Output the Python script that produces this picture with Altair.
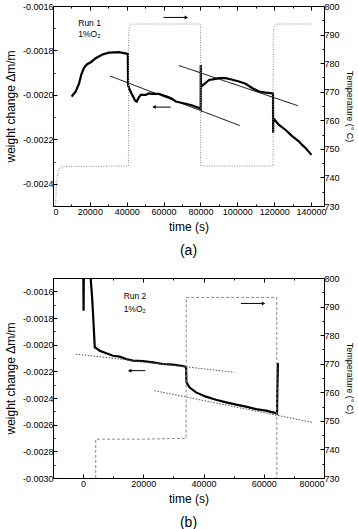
import altair as alt
import pandas as pd

# ---------------- Run 1 (panel a) ----------------
run1_time = [10100, 11000, 12300, 13300, 14100, 15300, 16800, 18500, 20500, 23150,
             26800, 30400, 33500, 35800, 38500, 40600, 40700, 41500, 43000, 44500,
             45400, 46500, 47600, 50300, 52100, 54000, 57500, 60000, 62500, 64750,
             66600, 68400, 72000, 75600, 79600, 80100, 80150, 80250, 81950, 84650,
             88270, 90100, 93700, 97300, 100900, 104500, 108200, 111800, 115400, 119000,
             119350, 119400, 119500, 122600, 126200, 128000, 129900, 133500, 135100, 137100,
             140200]
run1_dm = [-0.002008, -0.001998, -0.001985, -0.001965, -0.00195, -0.00191, -0.001878, -0.001862, -0.001853, -0.001835,
           -0.001818, -0.00181, -0.001809, -0.001808, -0.001812, -0.001816, -0.001955, -0.001975, -0.002, -0.002025,
           -0.00203, -0.002012, -0.002, -0.002, -0.001993, -0.001995, -0.001995, -0.002003, -0.00201, -0.002018,
           -0.00203, -0.002033, -0.00204, -0.002048, -0.00206, -0.002065, -0.001865, -0.001963, -0.001952, -0.001933,
           -0.001928, -0.001925, -0.001925, -0.001932, -0.00194, -0.00195, -0.00197, -0.001985, -0.00199, -0.001993,
           -0.001995, -0.00217, -0.002105, -0.002135, -0.002158, -0.002172, -0.002187, -0.00221, -0.002225, -0.00224,
           -0.00227]
run1_temp_time = [1400, 1700, 2200, 2900, 4000, 6000, 40900, 41000, 41500, 42500,
                  80000, 80050, 119400, 119450, 120000, 121000, 140200]
run1_temp = [730, 735, 739.5, 742.5, 743.5, 743.8, 744, 790, 793, 793.7,
             793.7, 744, 744, 790, 793, 793.7, 793.7]
run1_fit_time = [[30930, 101300], [68370, 132950]]
run1_fit_dm = [[-0.001915, -0.002138], [-0.001868, -0.002049]]

# ---------------- Run 2 (panel b) ----------------
run2_time = [0, 150, 300, 2300, 2500, 3000, 3300, 3600, 3870, 4400,
             5500, 7700, 9900, 12100, 14300, 16500, 19900, 23200, 26500, 29800,
             33100, 34200, 34300, 35300, 37500, 40800, 44100, 47500, 50800, 54100,
             57400, 60700, 64000, 64400, 64500, 64700]
run2_dm = [-0.0013, -0.001745, -0.0013, -0.0013, -0.0015, -0.00165, -0.00177, -0.0019, -0.00202, -0.002027,
           -0.002045, -0.002065, -0.002083, -0.00209, -0.002108, -0.00212, -0.002123, -0.002133, -0.002145, -0.00215,
           -0.00216, -0.002168, -0.00228, -0.00232, -0.002358, -0.00239, -0.002413, -0.002433, -0.00245, -0.002465,
           -0.002483, -0.002495, -0.002513, -0.002518, -0.00234, -0.002137]
run2_temp_time = [4190, 4200, 20000, 34200, 34250, 64300, 64350]
run2_temp = [730, 743.6, 743.6, 743.9, 793.2, 793.2, 730]
run2_fit_time = [[-2430, 50210], [23720, 76140]]
run2_fit_dm = [[-0.00207, -0.002208], [-0.002345, -0.002583]]

LABEL_FONT = "Liberation Sans Narrow, Liberation Sans, Arial, sans-serif"
FONT = "Liberation Sans, Arial, sans-serif"
MINUS = "\u2212"


def tick_size(test):
    # negative sizes point the ticks into the plot
    return {"condition": {"test": test, "value": -4}, "value": -2}


def x_axis(orient, values, labels):
    test = "datum.value % 20000 === 0"
    kw = dict(orient=orient, values=values, format="d", grid=False, domain=False,
              tickSize=tick_size(test), tickColor="black", labelPadding=5,
              labelFont=LABEL_FONT, labelFontSize=9, labelColor="black")
    if labels:
        return alt.Axis(labelExpr=f"{test} ? datum.label : ''", title="time (s)",
                        titleFont=FONT, titleFontSize=12, titleFontWeight="normal",
                        titleColor="black", titlePadding=5, **kw)
    return alt.Axis(labels=False, title=None, **kw)


def dm_axis(values):
    test = "abs(round(datum.value * 10000)) % 2 === 0"
    return alt.Axis(orient="left", values=values, format=".4f", grid=False, domain=False,
                    labelExpr=f"{test} ? replace(datum.label, '{MINUS}', '-') : ''",
                    tickSize=tick_size(test), tickColor="black", labelPadding=4,
                    labelFont=LABEL_FONT, labelFontSize=9, labelColor="black",
                    title="weight change Δm/m", titleFont=FONT, titleFontSize=12,
                    titleFontWeight="normal", titleColor="black", titlePadding=5)


def temp_axis():
    test = "datum.value % 10 === 0"
    return alt.Axis(orient="right", values=list(range(730, 801, 5)), format="d", grid=False,
                    domain=False, labelExpr=f"{test} ? datum.label : ''",
                    tickSize=tick_size(test), tickColor="black", labelPadding=4,
                    labelFont=LABEL_FONT, labelFontSize=9, labelColor="black",
                    title="Temperature  (° C)", titleFont=FONT, titleFontSize=9,
                    titleFontWeight="normal", titleColor="black", titlePadding=5)


def panel(tag, w_t, w_v, t_t, t_v, fit_t, fit_v, fit_dash, fit_color, temp_dash,
          x_dom, x_vals, y_dom, y_vals, left_arrow, right_arrow, run_label, run_pos):
    xs = alt.Scale(domain=x_dom, nice=False, zero=False)
    ys = alt.Scale(domain=y_dom, nice=False, zero=False)
    ts = alt.Scale(domain=[730, 800], nice=False, zero=False)

    wdf = pd.DataFrame({"t": w_t, "v": w_v})
    tdf = pd.DataFrame({"t": t_t, "T": t_v})
    fdf = pd.DataFrame({
        "line": [i for i, seg in enumerate(fit_t) for _ in seg],
        "t": [x for seg in fit_t for x in seg],
        "v": [y for seg in fit_v for y in seg],
    })

    weight = alt.Chart(wdf).mark_line(color="black", strokeWidth=2.2, clip=True).encode(
        x=alt.X("t:Q", scale=xs, axis=x_axis("bottom", x_vals, True)),
        y=alt.Y("v:Q", scale=ys, axis=dm_axis(y_vals)),
    )
    fits = alt.Chart(fdf).mark_line(color=fit_color, strokeWidth=1, strokeDash=fit_dash,
                                    clip=True).encode(
        x=alt.X("t:Q", scale=xs, axis=None),
        y=alt.Y("v:Q", scale=ys, axis=None),
        detail="line:N",
    )
    la = pd.DataFrame({"x": [left_arrow[0]], "x2": [left_arrow[1]], "y": [left_arrow[2]]})
    la_rule = alt.Chart(la).mark_rule(color="black", strokeWidth=1).encode(
        x=alt.X("x:Q", scale=xs, axis=None), x2="x2:Q",
        y=alt.Y("y:Q", scale=ys, axis=None))
    la_head = alt.Chart(la).mark_point(shape="triangle-left", filled=True, color="black",
                                       size=16, opacity=1).encode(
        x=alt.X("x:Q", scale=xs, axis=None), y=alt.Y("y:Q", scale=ys, axis=None))
    tx = pd.DataFrame({"t": [run_pos[0], run_pos[0]], "v": [run_pos[1], run_pos[2]],
                       "s": [run_label, "1%O₂"]})
    text = alt.Chart(tx).mark_text(align="left", baseline="middle", font=LABEL_FONT,
                                   fontSize=8.5, color="black").encode(
        x=alt.X("t:Q", scale=xs, axis=None), y=alt.Y("v:Q", scale=ys, axis=None),
        text="s:N")

    temp = alt.Chart(tdf).mark_line(color="#8a8a8a", strokeWidth=1, strokeDash=temp_dash,
                                    clip=True).encode(
        x=alt.X("t:Q", scale=xs, axis=x_axis("top", x_vals, False)),
        y=alt.Y("T:Q", scale=ts, axis=temp_axis()),
    )
    ra = pd.DataFrame({"x": [right_arrow[0]], "x2": [right_arrow[1]], "y": [right_arrow[2]]})
    ra_rule = alt.Chart(ra).mark_rule(color="black", strokeWidth=1).encode(
        x=alt.X("x:Q", scale=xs, axis=None), x2="x2:Q",
        y=alt.Y("y:Q", scale=ts, axis=None))
    ra_head = alt.Chart(ra).mark_point(shape="triangle-right", filled=True, color="black",
                                       size=16, opacity=1).encode(
        x=alt.X("x2:Q", scale=xs, axis=None), y=alt.Y("y:Q", scale=ts, axis=None))

    return alt.layer(weight, fits, la_rule, la_head, text, temp, ra_rule, ra_head).resolve_scale(
        y="independent").resolve_axis(x="independent", y="independent").properties(
        width=271, height=200,
        title=alt.TitleParams(tag, orient="bottom", anchor="middle", font=FONT, fontSize=14,
                              fontWeight="normal", color="black", offset=12),
    )


panel_a = panel("(a)", run1_time, run1_dm, run1_temp_time, run1_temp,
                run1_fit_time, run1_fit_dm, [1, 0], "black", [1, 1.5],
                [0, 147000], list(range(0, 140001, 10000)),
                [-0.0025, -0.0016], [round(-0.0025 + 0.0001 * i, 4) for i in range(10)],
                (54800, 63850, -0.002055), (59900, 72350, 796),
                "Run 1", (13700, -0.001675, -0.001727))

panel_b = panel("(b)", run2_time, run2_dm, run2_temp_time, run2_temp,
                run2_fit_time, run2_fit_dm, [1.5, 1.5], "#555555", [3, 2],
                [-10000, 80000], list(range(-10000, 80001, 10000)),
                [-0.0030, -0.0015], [round(-0.0030 + 0.0001 * i, 4) for i in range(16)],
                (15450, 20640, -0.002195), (52410, 59920, 791.1),
                "Run 2", (13460, -0.001633, -0.001733))

chart = alt.vconcat(panel_a, panel_b, spacing=14).properties(
    padding={"left": 3, "top": 1, "right": 0, "bottom": 0}
).configure_view(stroke="black", strokeWidth=1)

chart.save("out.html", embed_options={"renderer": "svg", "actions": False})
